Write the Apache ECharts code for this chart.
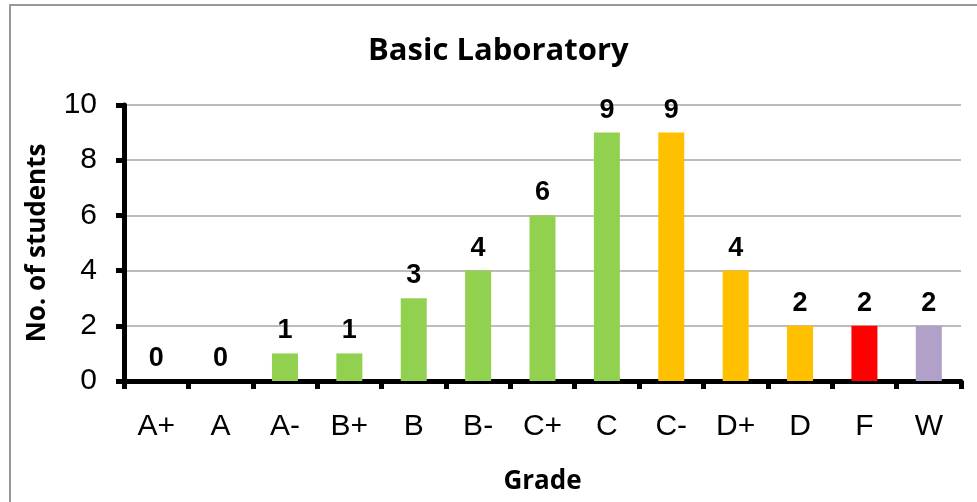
<!DOCTYPE html>
<html>
<head>
<meta charset="utf-8">
<script src="https://cdn.jsdelivr.net/npm/echarts@6/dist/echarts.min.js"></script>
<style>
html, body { margin: 0; padding: 0; background: #fff; }
#main { width: 977px; height: 502px; }
</style>
</head>
<body>
<div id="main"></div>
<script>
var grades = ['A+', 'A', 'A-', 'B+', 'B', 'B-', 'C+', 'C', 'C-', 'D+', 'D', 'F', 'W'];
var students = [0, 0, 1, 1, 3, 4, 6, 9, 9, 4, 2, 2, 2];
var barColors = ['#92D050', '#92D050', '#92D050', '#92D050', '#92D050', '#92D050', '#92D050', '#92D050',
                 '#FFC000', '#FFC000', '#FFC000', '#FF0000', '#B1A0C7'];
var yTicks = [0, 2, 4, 6, 8, 10];

var myChart = echarts.init(document.getElementById('main'));

var option = {
    animation: false,
    graphic: [{
        type: 'rect',
        shape: { x: 10, y: 5, width: 980, height: 510 },
        style: { fill: 'none', stroke: '#999', lineWidth: 2 }
    }],
    title: {
        text: 'Basic Laboratory',
        left: 368,
        top: 36,
        padding: 0,
        textStyle: { fontFamily: 'Open Sans', fontWeight: 'bold', fontSize: 31, color: '#000' }
    },
    grid: { left: 124, right: 16, top: 105, bottom: 121, containLabel: false, outerBoundsMode: 'none' },
    xAxis: {
        type: 'category',
        data: grades,
        name: 'Grade',
        nameLocation: 'middle',
        nameGap: 88,
        nameTextStyle: { fontFamily: 'Open Sans', fontWeight: 'bold', fontSize: 26, color: '#000' },
        axisLine: { lineStyle: { color: '#000', width: 5 } },
        axisTick: { show: true, length: 8, lineStyle: { color: '#000', width: 5 } },
        axisLabel: { margin: 31, fontFamily: 'Liberation Sans', fontSize: 30, color: '#000' }
    },
    yAxis: {
        type: 'value',
        min: yTicks[0],
        max: yTicks[yTicks.length - 1],
        interval: 2,
        name: 'No. of students',
        nameLocation: 'middle',
        nameGap: 73,
        nameTextStyle: { fontFamily: 'Open Sans', fontWeight: 'bold', fontSize: 26, color: '#000' },
        axisLine: { show: true, lineStyle: { color: '#000', width: 5 } },
        axisTick: { show: true, length: 8, lineStyle: { color: '#000', width: 5 } },
        axisLabel: { margin: 27, fontFamily: 'Liberation Sans', fontSize: 30, color: '#000' },
        splitLine: { lineStyle: { color: '#A6A6A6', width: 1.5 } }
    },
    series: [{
        type: 'bar',
        barWidth: 26,
        data: students.map(function (v, i) {
            return { value: v, itemStyle: { color: barColors[i] } };
        }),
        label: {
            show: true,
            position: 'top',
            distance: 9,
            fontFamily: 'Liberation Sans',
            fontWeight: 'bold',
            fontSize: 27,
            color: '#000'
        }
    }]
};

myChart.setOption(option);
</script>
</body>
</html>
